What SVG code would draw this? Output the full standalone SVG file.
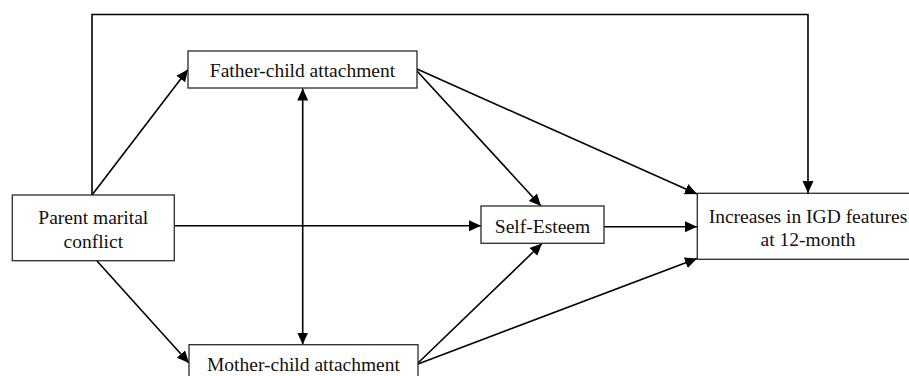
<svg xmlns="http://www.w3.org/2000/svg" width="909" height="376" viewBox="0 0 909 376">
<style>
.box{fill:#fff;stroke:#2a2a2a;stroke-width:1.3}
.lbl{font-family:"Liberation Serif","Times New Roman",serif;font-size:19.5px;fill:#111;text-anchor:middle}
.c{fill:none;stroke:#000;stroke-width:1.6}
</style>
<defs>
<marker id="ah" markerUnits="userSpaceOnUse" markerWidth="13" markerHeight="12" refX="12" refY="5.5" orient="auto-start-reverse">
<path d="M0,0 L12,5.5 L0,11 z" fill="#000"/>
</marker>
</defs>
<g id="connectors">
<polyline class="c" points="92,195 92,14.5 808,14.5 808,193" marker-end="url(#ah)"/>
<line class="c" x1="92" y1="195" x2="188" y2="69.5" marker-end="url(#ah)"/>
<line class="c" x1="97" y1="261" x2="189" y2="363" marker-end="url(#ah)"/>
<line class="c" x1="175" y1="225.7" x2="481" y2="225.7" marker-end="url(#ah)"/>
<line class="c" x1="302.7" y1="88.5" x2="302.7" y2="344.5" marker-start="url(#ah)" marker-end="url(#ah)"/>
<line class="c" x1="417" y1="69" x2="697" y2="194" marker-end="url(#ah)"/>
<line class="c" x1="417" y1="71" x2="541" y2="206" marker-end="url(#ah)"/>
<line class="c" x1="418" y1="363" x2="542" y2="243.5" marker-end="url(#ah)"/>
<line class="c" x1="418" y1="364" x2="697" y2="258.5" marker-end="url(#ah)"/>
<line class="c" x1="604" y1="226.7" x2="697" y2="226.7" marker-end="url(#ah)"/>
</g>
<g id="father">
<rect class="box" x="188" y="51" width="229" height="37"/>
<text class="lbl" x="302.5" y="77.3">Father-child attachment</text>
</g>
<g id="parent">
<rect class="box" x="12.3" y="195" width="162" height="65.7"/>
<text class="lbl" x="93.3" y="224">Parent marital</text>
<text class="lbl" x="93.3" y="247.5">conflict</text>
</g>
<g id="self-esteem">
<rect class="box" x="481" y="206" width="123" height="37.3"/>
<text class="lbl" x="542.5" y="232.7">Self-Esteem</text>
</g>
<g id="mother">
<rect class="box" x="189" y="344.7" width="229" height="37"/>
<text class="lbl" x="303.5" y="371">Mother-child attachment</text>
</g>
<g id="igd">
<rect class="box" x="697.3" y="193.3" width="222" height="66"/>
<text class="lbl" x="808" y="222.7">Increases in IGD features</text>
<text class="lbl" x="808" y="246">at 12-month</text>
</g>
</svg>
